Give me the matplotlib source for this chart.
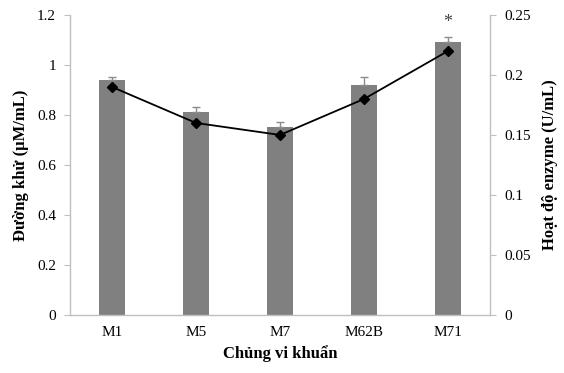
import matplotlib
matplotlib.use('Agg')
import matplotlib.pyplot as plt
import numpy as np

strains   = ['M1', 'M5', 'M7', 'M62B', 'M71']
sugar     = [0.94, 0.81, 0.75, 0.92, 1.09]     # Đường khử (µM/mL)
sugar_err = [0.01, 0.02, 0.02, 0.03, 0.02]
enzyme    = [0.19, 0.16, 0.15, 0.18, 0.22]     # Hoạt độ enzyme (U/mL)
star_idx  = 4

plt.rcParams['font.family'] = ['Liberation Serif', 'DejaVu Serif']
AX_COL = '#bfbfbf'

fig = plt.figure(figsize=(5.64, 3.73), dpi=100)
ax = fig.add_axes([0.124, 0.1555, 0.745, 0.8045])
x = np.arange(len(strains))

ax.bar(x, sugar, width=0.3, color='#808080', zorder=2)
ax.errorbar(x, sugar, yerr=[np.zeros(len(x)), sugar_err], fmt='none',
            ecolor='#8c8c8c', elinewidth=1, capsize=3, capthick=1, zorder=3)
ax.text(x[star_idx], sugar[star_idx] + sugar_err[star_idx] + 0.06, '*',
        ha='center', va='center', fontsize=13, color='#404040')

ax.set_xlim(-0.5, len(x) - 0.5)
ax.set_ylim(0, 1.2)
ax.set_yticks(np.arange(0, 1.21, 0.2))
ax.set_yticklabels(['0', '0.2', '0.4', '0.6', '0.8', '1', '1.2'])
ax.set_xticks(x)
ax.set_xticklabels(strains)
ax.tick_params(axis='x', length=0, labelsize=11, pad=8)
ax.tick_params(axis='y', length=4, color=AX_COL, labelsize=11, pad=6)
ax.set_xlabel('Chủng vi khuẩn', fontsize=12, fontweight='bold', labelpad=4)
ax.set_ylabel('Đường khử (µM/mL)', fontsize=12, fontweight='bold', labelpad=6)

ax2 = ax.twinx()
ax2.plot(x, enzyme, color='black', marker='D', markersize=5, linewidth=1.3, zorder=4)
ax2.set_ylim(0, 0.25)
ax2.set_yticks(np.arange(0, 0.251, 0.05))
ax2.set_yticklabels(['0', '0.05', '0.1', '0.15', '0.2', '0.25'])
ax2.tick_params(axis='y', length=4, color=AX_COL, labelsize=11, pad=6)
ax2.set_ylabel('Hoạt độ enzyme (U/mL)', fontsize=12, fontweight='bold', labelpad=8)

for a in (ax, ax2):
    for s in a.spines.values():
        s.set_visible(False)
ax.spines['left'].set_visible(True)
ax.spines['bottom'].set_visible(True)
ax2.spines['right'].set_visible(True)
for s in (ax.spines['left'], ax.spines['bottom'], ax2.spines['right']):
    s.set_color(AX_COL)
    s.set_linewidth(1)

fig.savefig('out.png', dpi=100)
